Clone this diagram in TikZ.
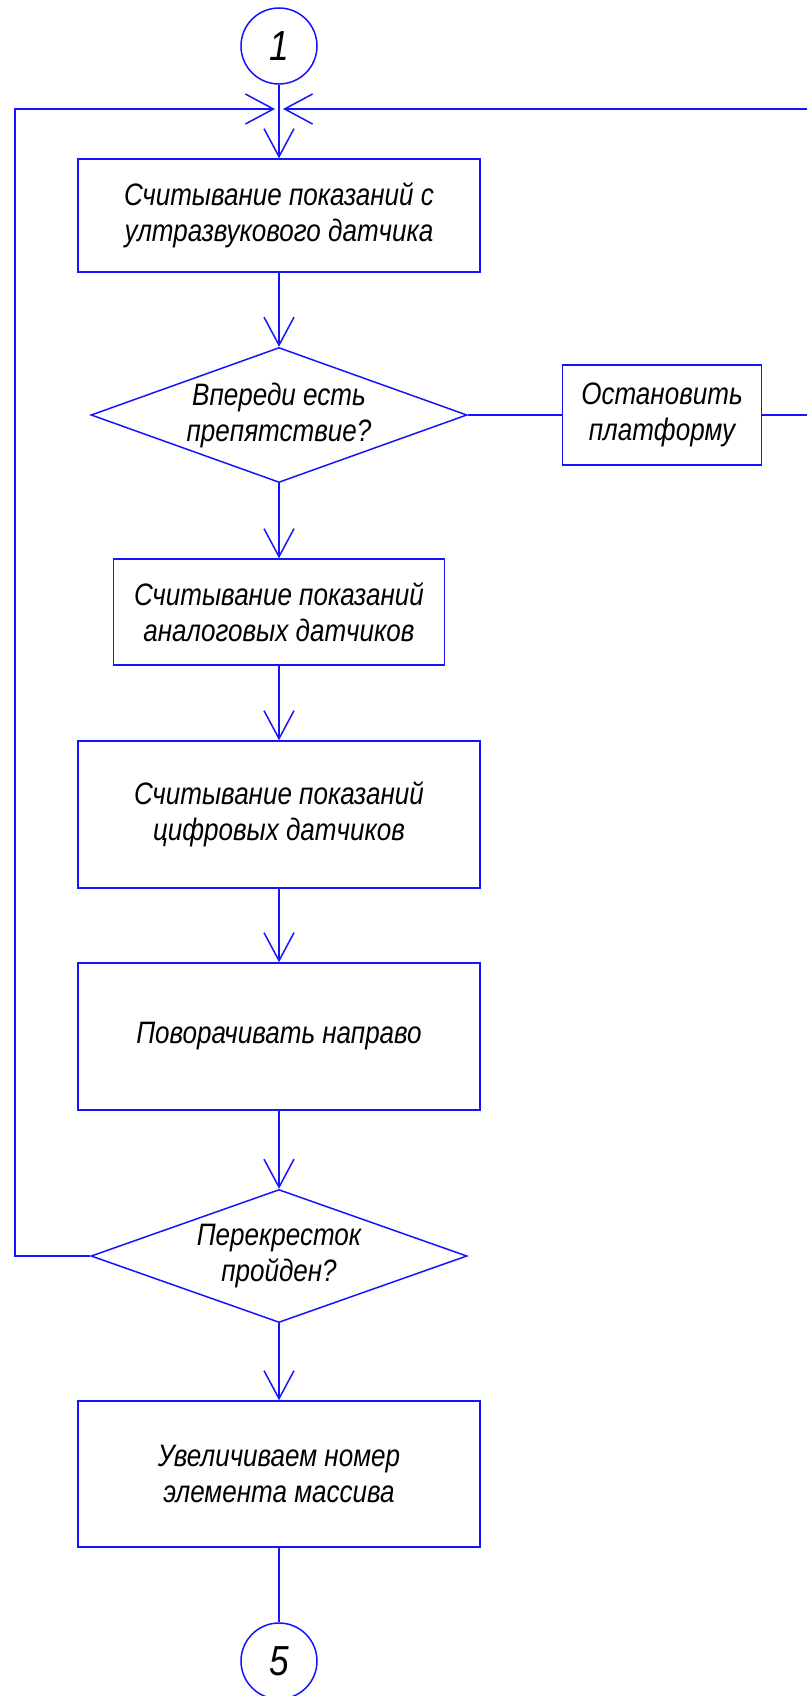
\documentclass[tikz,border=0pt]{standalone}
\usepackage{fontspec}
\newfontfamily\gostfont[FakeStretch=0.84]{Liberation Sans}
\usetikzlibrary{shapes.geometric,arrows.meta}
\definecolor{flowblue}{RGB}{20,20,255}
\tikzset{
	line/.style={draw=flowblue, line width=1.5pt},
	arr/.style={-{Straight Barb[length=28pt,width=30pt]}},
	txt/.style={text=black, align=center, inner sep=0pt,
		font=\gostfont\itshape\fontsize{31}{36}\selectfont},
	block/.style={line, txt, rectangle, minimum width=402pt, minimum height=113pt},
	decision/.style={line, txt, diamond, shape aspect=2.8, minimum width=376pt,
		minimum height=135pt},
	term/.style={line, circle, minimum size=76pt, inner sep=0pt, text=black,
		font=\gostfont\itshape\fontsize{42}{42}\selectfont}
}
\begin{document}
\begin{tikzpicture}[x=1pt, y=-1pt]
	\useasboundingbox (0,0) rectangle (806,1696);
	% Anfang
	\node[term] (c1) at (279,46) {1};
	\coordinate (jL) at (275,109);
	\coordinate (jR) at (283,109);
	% Bloecke
	\node[block] (us) at (279,215.5) {Считывание показаний с\\ултразвукового датчика};
	\node[decision] (obst) at (279,415) {Впереди есть\\препятствие?};
	\node[block, minimum width=199pt, minimum height=100pt] (stop) at (662,415)
		{Остановить\\платформу};
	\node[block, minimum width=331pt, minimum height=106pt] (an) at (279,612)
		{Считывание показаний\\аналоговых датчиков};
	\node[block, minimum height=147pt] (dig) at (279,814.5)
		{Считывание показаний\\цифровых датчиков};
	\node[block, minimum height=147pt] (turn) at (279,1036.5) {Поворачивать направо};
	\node[decision, minimum height=133pt] (cross) at (279,1256) {Перекресток\\пройден?};
	\node[block, minimum height=146pt] (inc) at (279,1474)
		{Увеличиваем номер\\элемента массива};
	% Ende
	\node[term] (c5) at (279,1661) {5};
	% Verbindungen
	\draw[line, arr] (c1.south) -- (us.north);
	\draw[line, arr] (us.south) -- (obst.north);
	\draw[line] (obst.east) -- (stop.west);
	\draw[line, arr] (obst.south) -- (an.north);
	\draw[line, arr] (an.south) -- (dig.north);
	\draw[line, arr] (dig.south) -- (turn.north);
	\draw[line, arr] (turn.south) -- (cross.north);
	\draw[line, arr] (cross.south) -- (inc.north);
	\draw[line] (inc.south) -- (c5.north);
	% Rueckfuehrungen
	\coordinate (loopL) at (15,109);
	\coordinate (loopR) at (830,109);
	\draw[line, arr] (cross.west) -| (loopL) -- (jL);
	\draw[line, arr] (stop.east) -| (loopR) -- (jR);
\end{tikzpicture}
\end{document}
